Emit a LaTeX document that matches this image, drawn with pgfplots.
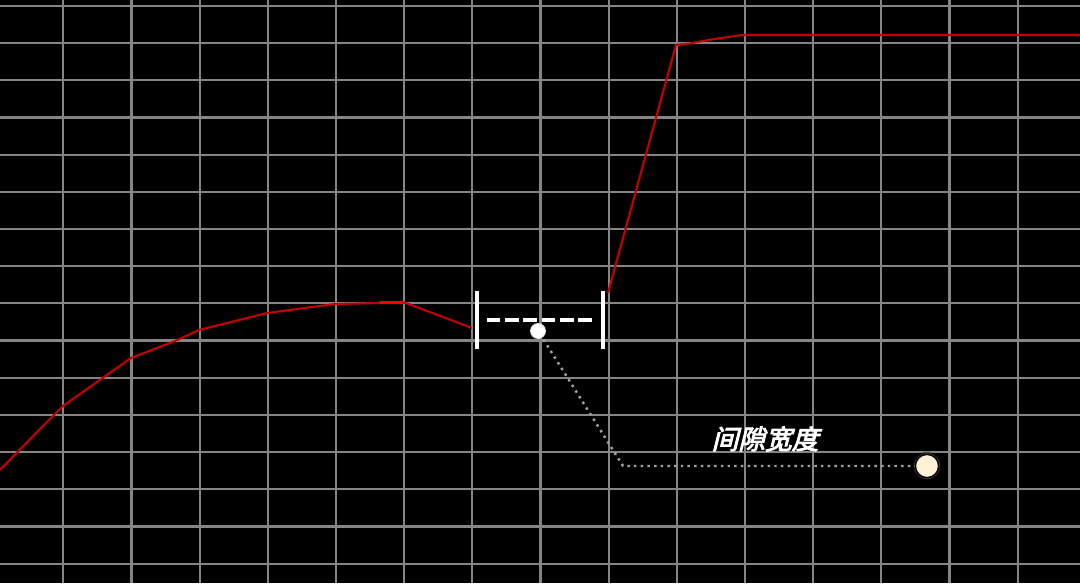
\documentclass[border=0pt]{standalone}
\usepackage{pgfplots}
\pgfplotsset{compat=1.18}
\usepackage{fontspec}
\newfontfamily\cjk[FakeSlant=0.25,FakeBold=3.5]{Noto Sans CJK SC}
\definecolor{gridgray}{HTML}{858585}
\definecolor{linered}{HTML}{C40000}
\definecolor{brightred}{HTML}{F00000}
\definecolor{dotgray}{HTML}{A0A0A0}
\definecolor{cream}{HTML}{FFF0D6}
\begin{document}
\begin{tikzpicture}
\begin{axis}[
  scale only axis,
  width=10.8cm, height=5.83cm,
  xmin=0, xmax=1080, ymin=0, ymax=583,
  y dir=reverse,
  axis background/.style={fill=black},
  axis line style={draw=none},
  xtick={63.3,131.47,...,1020},
  ytick={5.9,43.08,...,566},
  xticklabels={}, yticklabels={},
  major tick length=0pt,
  grid=major,
  major grid style={gridgray, line width=0.62pt},
  clip=true,
]
% red curve, left of the gap
\addplot[linered, line width=0.6pt] coordinates {
  (0,470) (42,427) (63,406) (131,358) (175,341) (199,330) (267,313)
  (335,304) (380,303) (404,302.5) (410,304.5) (472,328)
};
\addplot[brightred, line width=0.8pt] coordinates {(380,302.6) (404,302.4)};
% red curve, right of the gap
\addplot[linered, line width=0.6pt] coordinates {
  (608,293) (676,45) (690,43.5) (708,40) (728,37) (742,35) (1080,35)
};
% gap bracket
\addplot[white, line width=1.15pt] coordinates {(477,291) (477,349)};
\addplot[white, line width=1.15pt] coordinates {(603,291) (603,349)};
\addplot[white, line width=1.25pt, dash pattern=on 3.9pt off 1.3pt] coordinates {(486.7,320) (593.3,320)};
% leader line
\addplot[dotgray, line width=0.7pt, dash pattern=on 0.7pt off 1.2pt] coordinates {
  (540,334) (623,466) (915,466)
};
% markers
\addplot[only marks, mark=*, mark size=2.1pt, mark options={fill=white, draw=white!80!gray, line width=0.3pt}] coordinates {(538,331)};
\addplot[only marks, mark=*, mark size=3.8pt, mark options={fill=cream!60!black, draw=none, opacity=0.5}] coordinates {(927,466)};
\addplot[only marks, mark=*, mark size=3.3pt, mark options={fill=cream, draw=none}] coordinates {(927,466)};
\node[text=white, font=\cjk\fontsize{7.6pt}{8pt}\selectfont, inner sep=0pt] at (axis cs:765,439) {间隙宽度};
\end{axis}
\pgfresetboundingbox
\useasboundingbox (current axis.south west) rectangle (current axis.north east);
\end{tikzpicture}
\end{document}
